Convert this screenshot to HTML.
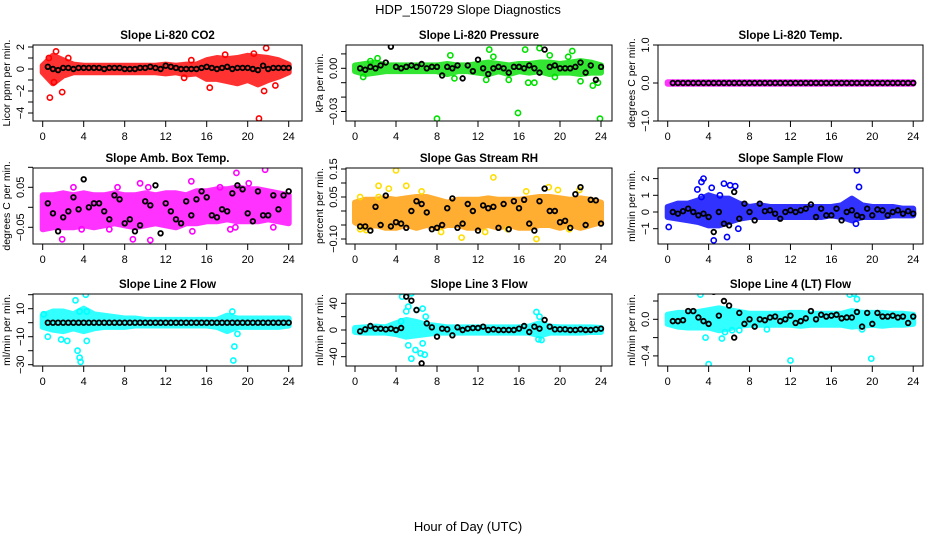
<!DOCTYPE html>
<html><head><meta charset="utf-8"><title>HDP_150729 Slope Diagnostics</title>
<style>
html,body{margin:0;padding:0;background:#fff;}
svg{display:block;font-family:"Liberation Sans",sans-serif;}
</style></head>
<body>
<svg id="chart" width="936" height="540" viewBox="0 0 936 540" xmlns="http://www.w3.org/2000/svg">
<text x="468" y="14" font-size="13" text-anchor="middle">HDP_150729  Slope Diagnostics</text>
<text x="468" y="531" font-size="13" text-anchor="middle">Hour of Day (UTC)</text>
</svg>
<script>
// ---- data (hourly band limits, outliers [hour,value], black half-hourly averages) ----
const xTicks = [0,4,8,12,16,20,24];
const co2Hi = [0.3,1.2,0.8,0.4,0.3,0.3,0.3,0.3,0.3,0.3,0.3,0.3,0.4,0.3,0.4,0.4,0.8,1.0,0.9,1.0,1.2,1.1,1.0,0.8,0.4];
const co2Lo = [-0.3,-1.3,-0.6,-0.3,-0.3,-0.3,-0.3,-0.3,-0.3,-0.3,-0.3,-0.3,-0.4,-0.3,-0.5,-0.4,-0.9,-0.9,-1.1,-1.3,-1.0,-1.4,-1.0,-0.7,-0.3];
const co2Out = [[0.7,-2.6],[1.9,-2.1],[2.5,1.0],[1.3,1.6],[16.3,-1.7],[21.1,-4.5],[21.8,1.9],[21.6,-2.0],[22.7,-1.5],[13.8,-0.8],[14.5,0.8],[20.6,1.4],[17.8,1.3],[1.1,-1.2],[0.6,1.0]];
const co2Avg = [0.2,0,-0.1,0.1,0.1,0,0.1,0.1,0.1,0.1,0.1,0,0.1,0.1,0.1,0,0,0,0.1,0.1,0.2,0.1,0,0.3,0.2,0.1,0,0,0,0,0.1,0.2,0.1,0,0.1,0.2,0,0.1,0.1,0.1,0,-0.1,0.3,0,0.1,0.1,0.1,0.1];
const co2Ticks = [2,1,0,-1,-2,-3,-4];
const co2Labels = ["2","","0","","-2","","-4"];

const presHi = [0.002,0.003,0.004,0.002,0.002,0.002,0.002,0.002,0.002,0.003,0.002,0.002,0.003,0.004,0.003,0.002,0.003,0.003,0.004,0.004,0.003,0.004,0.005,0.004,0.002];
const presLo = [-0.002,-0.004,-0.003,-0.002,-0.002,-0.002,-0.002,-0.002,-0.002,-0.004,-0.002,-0.002,-0.003,-0.004,-0.002,-0.004,-0.002,-0.003,-0.002,-0.004,-0.003,-0.003,-0.004,-0.003,-0.003];
const presOut = [[8,-0.035],[15.9,-0.031],[23.9,-0.035],[13.1,0.013],[16.6,0.013],[18.0,0.014],[21.2,0.012],[1.5,0.005],[2.2,0.007],[9.3,0.009],[12.8,-0.008],[15.0,-0.008],[16.9,-0.01],[17.5,-0.01],[19.0,0.009],[23.2,-0.012],[23.7,-0.01],[0.8,-0.006],[9.7,-0.007],[22.0,-0.009],[19.5,-0.006],[13.5,0.008],[20.8,0.008]];
const presAvg = [0.000,-0.001,0.001,0.000,0.002,0.004,0.015,0.001,0.000,0.001,0.002,0.001,0.003,0,0.001,0.001,-0.005,0.001,0.000,0.002,-0.007,0.002,-0.002,0.006,0.000,-0.004,0,0.001,0,-0.003,0.001,0.001,0,0.002,0,-0.003,0.013,0.001,0.002,0,0,0,0.001,0.004,-0.003,0.002,-0.008,0.001];
const presTicks = [0.01,0,-0.01,-0.02,-0.03];
const presLabels = ["","0.00","","","-0.03"];

const tempHi = [0.02,0.02,0.02,0.02,0.02,0.02,0.02,0.02,0.02,0.02,0.02,0.02,0.02,0.02,0.02,0.02,0.02,0.02,0.02,0.02,0.02,0.02,0.02,0.02,0.02];
const tempLo = [-0.02,-0.02,-0.02,-0.02,-0.02,-0.02,-0.02,-0.02,-0.02,-0.02,-0.02,-0.02,-0.02,-0.02,-0.02,-0.02,-0.02,-0.02,-0.02,-0.02,-0.02,-0.02,-0.02,-0.02,-0.02];
const tempOut = [];
const tempAvg = [0,0,0,0,0,0,0,0,0,0,0,0,0,0,0,0,0,0,0,0,0,0,0,0,0,0,0,0,0,0,0,0,0,0,0,0,0,0,0,0,0,0,0,0,0,0,0,0];
const tempTicks = [1,0,-1];
const tempLabels = ["1.0","0.0","-1.0"];

const boxHi = [0.03,0.03,0.035,0.03,0.035,0.03,0.03,0.035,0.03,0.03,0.035,0.03,0.035,0.035,0.03,0.04,0.04,0.045,0.045,0.05,0.045,0.045,0.04,0.035,0.03];
const boxLo = [-0.055,-0.05,-0.05,-0.05,-0.045,-0.05,-0.045,-0.04,-0.045,-0.05,-0.045,-0.04,-0.045,-0.05,-0.04,-0.04,-0.035,-0.035,-0.03,-0.035,-0.035,-0.035,-0.03,-0.035,-0.04];
const boxOut = [[1.9,-0.08],[8.8,-0.08],[10.5,-0.082],[18.9,0.086],[21.7,0.094],[9.5,0.06],[10.3,0.05],[14.5,0.065],[3.8,-0.055],[14.6,-0.06],[18.3,-0.055],[18.8,-0.05],[22.5,-0.05],[7.3,0.05],[3.0,0.05],[6.5,-0.055],[17.3,0.05],[20.1,0.06]];
const boxAvg = [0.01,-0.015,-0.06,-0.025,-0.01,0.025,-0.005,0.07,0,0.01,0.01,-0.01,-0.03,0.03,0.02,-0.04,-0.03,-0.06,-0.045,0.015,0.005,0.055,-0.065,0.01,-0.01,-0.03,-0.04,0.015,-0.02,0.02,0.04,0.025,-0.02,-0.025,-0.005,-0.01,0.035,0.055,0.045,-0.015,-0.035,0.04,-0.02,-0.02,0.03,-0.005,0.03,0.04];
const boxTicks = [0.1,0.05,0,-0.05];
const boxLabels = ["","0.05","","-0.05"];

const rhHi = [0.03,0.04,0.04,0.045,0.04,0.045,0.05,0.05,0.04,0.03,0.04,0.04,0.04,0.045,0.04,0.04,0.04,0.045,0.05,0.05,0.045,0.04,0.045,0.04,0.03];
const rhLo = [-0.04,-0.06,-0.05,-0.06,-0.06,-0.05,-0.06,-0.05,-0.06,-0.05,-0.05,-0.06,-0.06,-0.05,-0.06,-0.05,-0.06,-0.06,-0.05,-0.05,-0.06,-0.05,-0.06,-0.05,-0.04];
const rhOut = [[4.0,0.145],[13.5,0.12],[2.3,0.09],[5.0,0.09],[18.9,0.085],[3.3,0.08],[10.4,-0.095],[17.7,-0.1],[8.4,-0.075],[12.7,-0.075],[0.5,-0.065],[1.1,-0.068],[14.9,-0.065],[20.9,-0.065],[16.7,0.07],[19.8,0.075],[21.9,0.075],[0.5,0.05],[2.3,0.05],[6.5,0.07]];
const rhAvg = [-0.055,-0.055,-0.07,0.015,-0.05,0.055,-0.055,-0.04,-0.045,-0.06,0.0,0.035,0.025,-0.005,-0.065,-0.06,-0.05,0.01,0.045,-0.06,-0.045,0.025,0,-0.07,0.02,0.01,0.015,-0.06,0.025,-0.065,0.035,0.01,0.04,-0.045,-0.07,0.035,0.08,0,0,-0.04,-0.035,-0.06,0.06,0.085,-0.05,0.04,0.038,-0.045];
const rhTicks = [0.15,0.1,0.05,0,-0.05,-0.1];
const rhLabels = ["0.15","","0.05","","","-0.10"];

const flowHi = [0.3,0.5,0.5,0.7,1.0,0.8,0.8,0.5,0.3,0.4,0.3,0.3,0.3,0.3,0.3,0.3,0.3,0.4,0.8,0.4,0.3,0.3,0.3,0.2,0.2];
const flowLo = [-0.3,-0.4,-0.5,-0.6,-0.8,-0.8,-0.6,-0.4,-0.3,-0.3,-0.3,-0.3,-0.3,-0.3,-0.3,-0.3,-0.2,-0.3,-0.5,-0.3,-0.3,-0.3,-0.2,-0.2,-0.2];
const flowOut = [[0.1,-0.9],[3.5,2.0],[3.3,1.8],[2.9,1.35],[4.3,1.45],[5.5,1.7],[6.1,1.6],[6.6,1.55],[4.5,-1.7],[5.8,-1.5],[6.9,-1.0],[18.5,2.5],[18.7,1.5],[18.4,-0.7],[3.3,0.9],[5.1,1.0]];
const flowAvg = [0.0,-0.1,0.05,0.2,0,-0.2,-0.1,-0.3,-1.2,0,-0.7,-0.8,1.2,-0.4,0.5,0,-0.5,0.5,0.05,0.1,-0.1,-0.4,0,0.1,0,0.1,0.2,0.45,-0.3,0.2,-0.2,-0.2,0.2,-0.5,0,0.1,-0.2,-0.3,0.2,-0.2,0.15,0.1,-0.2,0,0.1,-0.1,0.05,-0.1];
const flowTicks = [2,1,0,-1];
const flowLabels = ["2","1","0","-1"];

const l2Hi = [5,8,8,6,10,6,5,4,3,3,2,2,2,2,2,2,2,2,5,3,3,3,3,3,3];
const l2Lo = [-3,-5,-6,-4,-6,-4,-3,-3,-3,-2,-2,-2,-2,-2,-2,-2,-2,-3,-6,-3,-3,-3,-3,-3,-2];
const l2Out = [[3.2,16],[4.2,20],[4.3,8],[3.4,-20],[3.6,-25],[3.7,-28],[4.3,-13],[2.4,-13],[1.8,-12],[0.5,-10],[18.5,8],[18.7,-17],[18.6,-27],[19.0,-8],[0.1,6],[3.6,8]];
const l2Avg = [0,0,0,0,0,0,0,0,0,0,0,0,0,0,0,0,0,0,0,0,0,0,0,0,0,0,0,0,0,0,0,0,0,0,0,0,0,0,0,0,0,0,0,0,0,0,0,0];
const l2Ticks = [20,10,0,-10,-20,-30];
const l2Labels = ["","10","","-10","","-30"];

const l3Hi = [3,4,5,4,10,15,12,8,6,4,4,4,4,4,4,4,4,5,10,5,4,4,4,4,3];
const l3Lo = [-3,-4,-4,-4,-6,-10,-8,-6,-4,-4,-4,-4,-4,-4,-4,-4,-4,-4,-8,-4,-4,-4,-4,-3,-3];
const l3Out = [[4.6,50],[5.5,55],[5.2,35],[5.0,28],[6.6,32],[6.0,30],[5.2,-23],[5.5,-43],[5.9,-30],[6.4,-35],[6.8,-37],[6.6,-20],[17.7,27],[18.0,20],[18.2,-15],[17.9,-14],[6.9,20],[4.5,13]];
const l3Avg = [-2,1,6,2,2,1,2,0,3,50,44,30,-50,10,4,-10,2,1,-8,4,0,2,3,3,5,0,1,0,0,0,0,2,6,-3,5,2,15,5,1,1,1,0,0,1,0,0,1,2];
const l3Ticks = [40,20,0,-20,-40];
const l3Labels = ["40","","0","","-40"];

const l4Hi = [0.05,0.07,0.07,0.08,0.1,0.12,0.1,0.08,0.06,0.06,0.06,0.06,0.07,0.07,0.06,0.06,0.06,0.06,0.09,0.07,0.07,0.07,0.06,0.06,0.05];
const l4Lo = [-0.05,-0.08,-0.09,-0.09,-0.09,-0.12,-0.1,-0.07,-0.06,-0.06,-0.06,-0.06,-0.06,-0.07,-0.06,-0.06,-0.06,-0.06,-0.08,-0.07,-0.06,-0.07,-0.06,-0.06,-0.05];
const l4Out = [[3.2,0.27],[4.0,-0.49],[12.0,-0.45],[19.9,-0.43],[3.7,-0.2],[5.3,-0.21],[17.8,0.27],[18.2,0.28],[18.5,0.22],[5.6,-0.14],[6.3,-0.12],[7.0,-0.12],[9.7,-0.11],[19.0,-0.11]];
const l4Avg = [-0.02,-0.02,-0.01,0.09,0.09,0.02,-0.02,-0.05,0.3,0.04,0.2,0.15,-0.2,0.07,-0.05,0,-0.08,0,-0.01,0.02,0.03,-0.02,0,0.04,-0.04,-0.02,0.01,0.09,0,0.05,0.03,0.04,0.05,0.01,0.02,0.02,0.08,-0.08,0.07,-0.05,0.07,0.03,0.03,0.04,0.02,0.03,-0.04,0.03];
const l4Ticks = [0.2,0,-0.2,-0.4];
const l4Labels = ["","0.0","","-0.4"];

// ---- layout ----
const cols = [{l:33,r:302,x0:42.7,k:10.25},{l:346,r:612,x0:355,k:10.25},{l:658,r:923,x0:667.7,k:10.23}];
const rows = [{t:45,b:121},{t:168,b:244},{t:294,b:366}];
const panels = [
 {c:0,r:0,name:"co2",title:"Slope Li-820 CO2",ylab:"Licor ppm per min.",y0:69,ky:11,hi:co2Hi,lo:co2Lo,out:co2Out,avg:co2Avg,ticks:co2Ticks,labels:co2Labels,col:"#ff0000"},
 {c:1,r:0,name:"pressure",title:"Slope Li-820 Pressure",ylab:"kPa per min.",y0:68.3,ky:1440,hi:presHi,lo:presLo,out:presOut,avg:presAvg,ticks:presTicks,labels:presLabels,col:"#00e000"},
 {c:2,r:0,name:"temp",title:"Slope Li-820 Temp.",ylab:"degrees C per min.",y0:83,ky:38,hi:tempHi,lo:tempLo,out:tempOut,avg:tempAvg,ticks:tempTicks,labels:tempLabels,col:"#ff00ff"},
 {c:0,r:1,name:"box-temp",title:"Slope Amb. Box Temp.",ylab:"degrees C per min.",y0:207.3,ky:400,hi:boxHi,lo:boxLo,out:boxOut,avg:boxAvg,ticks:boxTicks,labels:boxLabels,col:"#ff00ff"},
 {c:1,r:1,name:"rh",title:"Slope Gas Stream RH",ylab:"percent per min.",y0:211,ky:280,hi:rhHi,lo:rhLo,out:rhOut,avg:rhAvg,ticks:rhTicks,labels:rhLabels,col:"#ff9a00",ocol:"#ffdd00"},
 {c:2,r:1,name:"sample-flow",title:"Slope Sample Flow",ylab:"ml/min per min.",y0:212,ky:16.7,hi:flowHi,lo:flowLo,out:flowOut,avg:flowAvg,ticks:flowTicks,labels:flowLabels,col:"#0000ff"},
 {c:0,r:2,name:"line2-flow",title:"Slope Line 2 Flow",ylab:"ml/min per min.",y0:322.7,ky:1.4,hi:l2Hi,lo:l2Lo,out:l2Out,avg:l2Avg,ticks:l2Ticks,labels:l2Labels,col:"#00ffff"},
 {c:1,r:2,name:"line3-flow",title:"Slope Line 3 Flow",ylab:"ml/min per min.",y0:330,ky:0.667,hi:l3Hi,lo:l3Lo,out:l3Out,avg:l3Avg,ticks:l3Ticks,labels:l3Labels,col:"#00ffff"},
 {c:2,r:2,name:"line4-flow",title:"Slope Line 4 (LT) Flow",ylab:"ml/min per min.",y0:319.3,ky:91.5,hi:l4Hi,lo:l4Lo,out:l4Out,avg:l4Avg,ticks:l4Ticks,labels:l4Labels,col:"#00ffff"}
];
const NS="http://www.w3.org/2000/svg";
const svg=document.getElementById('chart');
function mk(tag,attrs,parent){const e=document.createElementNS(NS,tag);for(const k in attrs)e.setAttribute(k,attrs[k]);parent.appendChild(e);return e;}

panels.forEach(p=>{
  const C=cols[p.c],R=rows[p.r];
  const xs=h=>C.x0+h*C.k, ys=v=>p.y0-v*p.ky;
  const g=mk('g',{},svg);
  
  
  const clipId='clip-'+p.name;
  const cp=mk('clipPath',{id:clipId},g);
  mk('rect',{x:C.l,y:R.t,width:C.r-C.l,height:R.b-R.t},cp);
  const plot=mk('g',{'clip-path':'url(#'+clipId+')'},g);
  const n=p.hi.length;let pts=[];
  for(let i=0;i<n;i++)pts.push(xs(24*i/(n-1))+','+ys(p.hi[i]));
  for(let i=n-1;i>=0;i--)pts.push(xs(24*i/(n-1))+','+ys(p.lo[i]));
  const band=mk('polygon',{points:pts.join(' '),fill:p.col,stroke:p.col,'stroke-width':6,'stroke-linejoin':'round',opacity:0.8},plot);
  
  
  p.out.forEach(o=>{
    const c=mk('circle',{cx:xs(o[0]),cy:ys(o[1]),r:2.6,fill:'none',stroke:p.ocol||p.col,'stroke-width':1.6},plot);
    
    
  });
  const m=p.avg.length;
  p.avg.forEach((v,i)=>{
    const c=mk('circle',{cx:xs(24*(i+1)/m),cy:ys(v),r:2.3,fill:'none',stroke:'#000','stroke-width':1.8},plot);
    
    
  });
  const fr=mk('rect',{x:C.l,y:R.t,width:C.r-C.l,height:R.b-R.t,fill:'none',stroke:'#000','stroke-width':1},g);
  
  
  const t=mk('text',{x:(C.l+C.r)/2,y:R.t-6,'font-size':11.5,'font-weight':'bold','text-anchor':'middle'},g);
  t.textContent=p.title;
  
  
  xTicks.forEach(h=>{
    mk('line',{x1:xs(h),x2:xs(h),y1:R.b,y2:R.b+6,stroke:'#000'},g);
    const tl=mk('text',{x:xs(h),y:R.b+19,'font-size':11,'text-anchor':'middle'},g);
    tl.textContent=h;
    
    
  });
  p.ticks.forEach((v,i)=>{
    const y=ys(v);
    mk('line',{x1:C.l-5,x2:C.l,y1:y,y2:y,stroke:'#000'},g);
    if(p.labels[i]){
      const tl=mk('text',{x:C.l-9,y:y,'font-size':11,'text-anchor':'middle',transform:'rotate(-90 '+(C.l-9)+' '+y+')'},g);
      tl.textContent=p.labels[i].replace('-','\u2212');
      
      
    }
  });
  const my=(R.t+R.b)/2;
  const yl=mk('text',{x:C.l-23,y:my,'font-size':10.5,'text-anchor':'middle',transform:'rotate(-90 '+(C.l-23)+' '+my+')'},g);
  yl.textContent=p.ylab;
  
  
});
</script>
</body></html>
